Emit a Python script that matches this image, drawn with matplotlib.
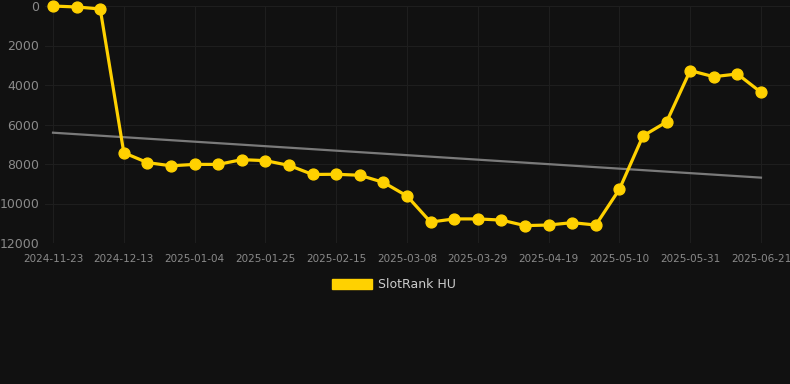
import numpy as np
import matplotlib.pyplot as plt
from matplotlib.patches import Patch

# weekly rank readings (lower is better, axis inverted)
ranks = [1, 50, 150, 7430, 7930, 8090, 8020, 8020, 7780, 7830,
         8070, 8530, 8520, 8570, 8930, 9620, 10940, 10780, 10780, 10840,
         11120, 11090, 10970, 11090, 9280, 6580, 5870, 3270, 3580, 3440,
         4370]
tick_labels = ['2024-11-23', '2024-12-13', '2025-01-04', '2025-01-25',
               '2025-02-15', '2025-03-08', '2025-03-29', '2025-04-19',
               '2025-05-10', '2025-05-31', '2025-06-21']
trend_ends = [6415, 8690]

bg = '#111111'
gold = '#FFD100'
x = np.arange(len(ranks))

fig = plt.figure(figsize=(7.9, 3.84), dpi=100, facecolor=bg)
ax = fig.add_axes([45 / 790, 1 - 243 / 384, 745 / 790, 237 / 384])
ax.set_facecolor(bg)

ax.plot([x[0], x[-1]], trend_ends, color='#7a7a7a', lw=1.6, zorder=2)
ax.plot(x, ranks, color=gold, lw=2.3, marker='o', ms=7.8,
        markerfacecolor=gold, markeredgecolor=gold, zorder=3, clip_on=False)

ax.set_xlim(-0.34, 31.23)
ax.set_ylim(12000, 0)
ax.set_yticks(range(0, 12001, 2000))
ax.set_xticks(x[::3])
ax.set_xticklabels(tick_labels)

ax.grid(True, color='#1e1e1e', lw=0.8)
ax.set_axisbelow(True)
for s in ax.spines.values():
    s.set_visible(False)
ax.tick_params(axis='y', colors='#8a8a8a', labelsize=9, length=0, pad=4)
ax.tick_params(axis='x', colors='#8a8a8a', labelsize=7.5, length=0, pad=8)

handle = Patch(facecolor=gold, edgecolor=gold)
leg = fig.legend([handle], ['SlotRank HU'], loc='center',
                 bbox_to_anchor=(394 / 790, 1 - 285 / 384), frameon=False,
                 handlelength=3.2, handleheight=0.9, handletextpad=0.5,
                 prop={'size': 9})
for t in leg.get_texts():
    t.set_color('#cccccc')

fig.savefig('out.png', dpi=100, facecolor=bg)
